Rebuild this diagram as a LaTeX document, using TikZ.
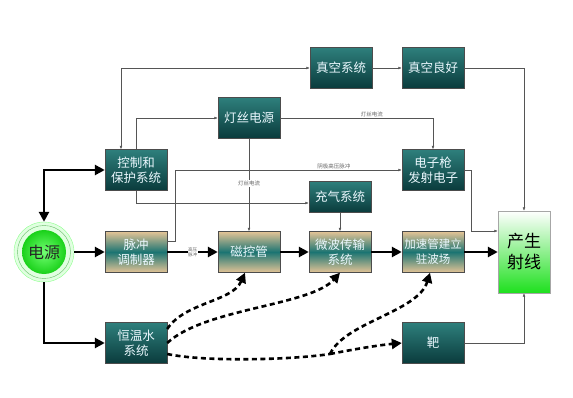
\documentclass[tikz,border=0pt]{standalone}
\usepackage{fontspec}
\setmainfont{Noto Sans CJK SC}
\usetikzlibrary{positioning,calc,arrows.meta}

\definecolor{tealtop}{HTML}{2E7F7C}
\definecolor{tealbot}{HTML}{0A3B3C}
\definecolor{tealmid}{HTML}{1B7472}
\definecolor{tanc}{HTML}{E4C496}
\definecolor{rayg}{HTML}{1EE01E}
\definecolor{linec}{HTML}{555555}

\begin{document}
\begin{tikzpicture}[x=1pt, y=-1pt,
  darkbox/.style={draw=gray!60!black, minimum width=62pt, minimum height=41pt, inner sep=0pt,
    align=center, text=white!92!cyan, font=\fontsize{12.5}{15}\selectfont,
    top color=tealtop, bottom color=tealbot},
  tanbox/.style={darkbox, top color=tanc, bottom color=tanc, middle color=tealmid},
  raybox/.style={draw=gray!70, minimum width=52pt, minimum height=82pt, inner sep=0pt,
    align=center, font=\fontsize{17}{21}\selectfont, top color=white, bottom color=rayg},
  powerc/.style={circle, draw=green!45, fill=green!12, minimum size=60pt, inner sep=0pt,
    font=\fontsize{16}{18}\selectfont, text=black!85,
    path picture={
      \draw[green!55!black!60, line width=0.4pt] (path picture bounding box.center) circle (26.5pt);
      \shade[inner color=green!55!white, outer color=green!80!black!90] (path picture bounding box.center) circle (22pt);
    }},
  thickarr/.style={line width=2.6pt, -{Triangle[length=10pt,width=10pt]}},
  dasharr/.style={line width=2.6pt, dash pattern=on 5pt off 3.5pt, -{Triangle[length=10pt,width=10pt]}},
  dashln/.style={line width=2.6pt, dash pattern=on 5pt off 3.5pt},
  thinarr/.style={draw=linec, line width=0.5pt, -{Latex[length=3.5pt,width=2.8pt]}},
  tinylbl/.style={font=\fontsize{5.5}{6}\selectfont, text=gray!80!black, inner sep=1pt}
]
\useasboundingbox (0,0) rectangle (573,398);

% Boxes
\node[darkbox] (vac) at (341,68) {真空系统};
\node[darkbox] (vacok) at (433,68) {真空良好};
\node[darkbox] (fil) at (249,118) {灯丝电源};
\node[darkbox] (ctrl) at (136,170) {控制和\\保护系统};
\node[darkbox] (gun) at (433,170) {电子枪\\发射电子};
\node[darkbox, minimum height=31pt] (gas) at (340,197) {充气系统};
\node[powerc] (power) at (44,252) {电源};
\node[tanbox] (pulse) at (136,252) {脉冲\\调制器};
\node[tanbox] (mag) at (249,252) {磁控管};
\node[tanbox] (wave) at (340,252) {微波传输\\系统};
\node[tanbox, font=\fontsize{11.5}{15}\selectfont] (accel) at (433,252) {加速管建立\\驻波场};
\node[raybox] (ray) at (524,252) {产生\\射线};
\node[darkbox] (water) at (136,343) {恒温水\\系统};
\node[darkbox] (target) at (433,343) {靶};

% Thick main chain
\draw[thickarr, {Triangle[length=10pt,width=10pt]}-{Triangle[length=10pt,width=10pt]}] (power.north) |- (ctrl.west);
\draw[thickarr] (power.east) -- (pulse.west);
\draw[thickarr] (pulse.east) -- node[fill=white, inner sep=0.5pt, align=center, font=\fontsize{4.5}{5}\selectfont, text=gray!80!black] {高压\\脉冲} (mag.west);
\draw[thickarr] (mag.east) -- (wave.west);
\draw[thickarr] (wave.east) -- (accel.west);
\draw[thickarr] (accel.east) -- (ray.west);
\draw[thickarr] (power.south) |- (water.west);

% Cooling water (dashed)
\coordinate (split) at (330,354);
\draw[dasharr] ([yshift=14pt]water.east) .. controls (185,302) and (232,302) .. ([xshift=-4pt]mag.south);
\draw[dasharr] (water.east) .. controls (205,308) and (310,306) .. (wave.south);
\draw[dashln] ([yshift=-11pt]water.east) .. controls (205,362) and (290,360) .. (split);
\draw[dasharr] (split) .. controls (345,322) and (418,312) .. ([xshift=-3pt]accel.south);
\draw[dasharr] (split) .. controls (355,349) and (380,345) .. (target.west);

% Thin control lines
\coordinate (hvturn) at (175,241);
\coordinate (gunturn) at (471,170);
\draw[thinarr, {Latex[length=3.5pt,width=2.8pt]}-{Latex[length=3.5pt,width=2.8pt]}] ([xshift=-15pt]ctrl.north) |- (vac.west);
\draw[thinarr] (ctrl.north) |- (fil.west);
\draw[thinarr] (vac.east) -- (vacok.west);
\draw[thinarr] (vacok.east) -| (ray.north);
\draw[thinarr] (fil.east) -| node[tinylbl, pos=0.3, above] {灯丝电流} (gun.north);
\draw[thinarr] (fil.south) -- node[tinylbl, fill=white, pos=0.48] {灯丝电流} (mag.north);
\draw[thinarr] ([yshift=11pt]pulse.east) -- (hvturn) |- node[tinylbl, pos=0.85, above] {阴极高压脉冲} (gun.west);
\draw[thinarr] (ctrl.south) |- ([yshift=-6pt]gas.west);
\draw[thinarr] (gas.south) -- (wave.north);
\draw[thinarr] (gun.east) -- (gunturn) |- ([yshift=21pt]ray.west);
\draw[thinarr] (target.east) -| (ray.south);

\end{tikzpicture}
\end{document}
